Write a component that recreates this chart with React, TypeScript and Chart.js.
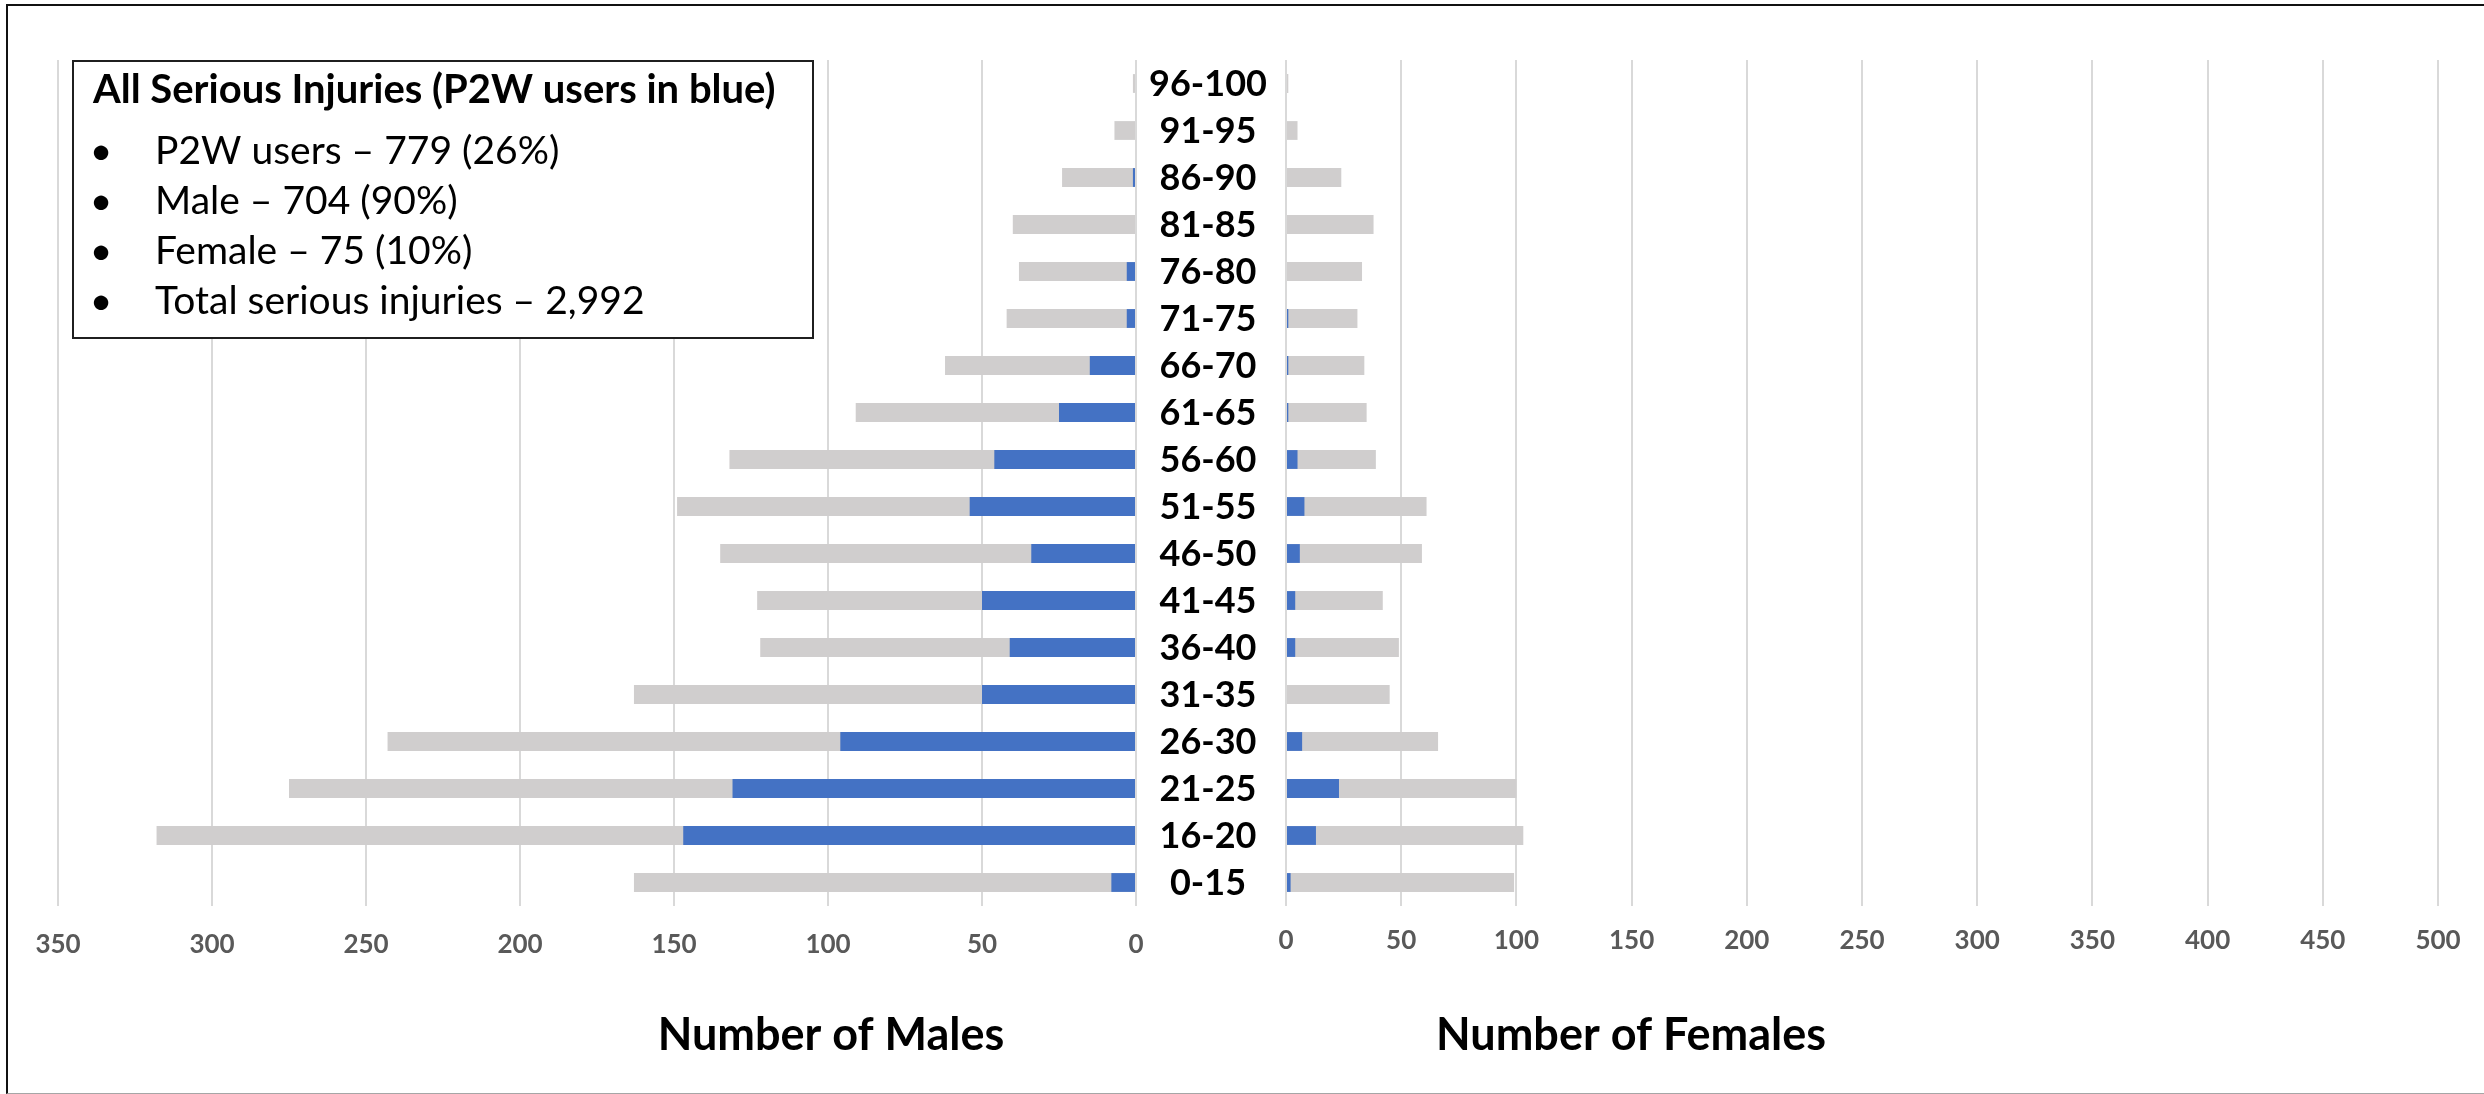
import React, { useEffect, useRef } from "react";
import { Chart, registerables } from "chart.js";

Chart.register(...registerables);

// ---- data (top row first) ----
const categories = ["96-100", "91-95", "86-90", "81-85", "76-80", "71-75", "66-70", "61-65", "56-60", "51-55", "46-50", "41-45", "36-40", "31-35", "26-30", "21-25", "16-20", "0-15"];
const maleAll = [1, 7, 24, 40, 38, 42, 62, 91, 132, 149, 135, 123, 122, 163, 243, 275, 318, 163];
const maleP2W = [0, 0, 1, 0, 3, 3, 15, 25, 46, 54, 34, 50, 41, 50, 96, 131, 147, 8];
const femaleAll = [1, 5, 24, 38, 33, 31, 34, 35, 39, 61, 59, 42, 49, 45, 66, 100, 103, 99];
const femaleP2W = [0, 0, 0, 0, 0, 1, 1, 1, 5, 8, 6, 4, 4, 0, 7, 23, 13, 2];
const maleMax = 350;
const femaleMax = 500;
const tickStep = 50;

const legendTitle = "All Serious Injuries (P2W users in blue)";
const legendLines = ["P2W users – 779 (26%)", "Male – 704 (90%)", "Female – 75 (10%)", "Total serious injuries – 2,992"];
const maleAxisTitle = "Number of Males";
const femaleAxisTitle = "Number of Females";

// ---- style ----
const W = 2484;
const H = 1094;
const BLUE = "#4472c4";
const GREY = "#d0cece";
const GRID = "#d9d9d9";
const TICK = "#595959";
const FONT = "Lato, 'Open Sans', sans-serif";

const legendPlugin = {
  id: "legendBox",
  afterDraw(chart: any) {
    const ctx = chart.ctx;
    ctx.save();
    ctx.fillStyle = "#ffffff";
    ctx.fillRect(73, 61, 740, 277);
    ctx.strokeStyle = "#1f1f1f";
    ctx.lineWidth = 2;
    ctx.strokeRect(73, 61, 740, 277);
    ctx.fillStyle = "#000000";
    ctx.textBaseline = "alphabetic";
    ctx.textAlign = "left";
    ctx.font = `bold 40px ${FONT}`;
    ctx.fillText(legendTitle, 93, 103);
    ctx.font = `39px ${FONT}`;
    legendLines.forEach((t, i) => {
      const y = 164 + i * 50;
      ctx.textAlign = "center";
      ctx.fillText("•", 101, y);
      ctx.textAlign = "left";
      ctx.fillText(t, 155, y);
    });
    ctx.font = `bold 45px ${FONT}`;
    ctx.textAlign = "center";
    ctx.textBaseline = "middle";
    ctx.fillText(maleAxisTitle, 831, 1035);
    ctx.restore();
  },
};

const femalePlugin = {
  id: "femaleExtras",
  afterDraw(chart: any) {
    const ctx = chart.ctx;
    const yScale = chart.scales.y;
    const cx = (yScale.left + yScale.right) / 2;
    ctx.save();
    ctx.fillStyle = "#000000";
    ctx.font = `bold 36px ${FONT}`;
    ctx.textAlign = "center";
    ctx.textBaseline = "middle";
    categories.forEach((c, i) => {
      ctx.fillText(c, cx - 3, yScale.getPixelForTick(i) + 1);
    });
    ctx.font = `bold 45px ${FONT}`;
    ctx.fillText(femaleAxisTitle, 1631, 1035);
    ctx.restore();
  },
};

function xScale(max: number, reverse: boolean, pad: number) {
  return {
    type: "linear",
    min: 0,
    max,
    reverse,
    position: "bottom",
    afterFit: (s: any) => {
      s.height = 188;
    },
    border: { display: false },
    grid: { color: GRID, lineWidth: 2, drawTicks: false },
    ticks: {
      stepSize: tickStep,
      padding: pad,
      color: TICK,
      font: { family: FONT, size: 26, weight: "bold" },
    },
  };
}

export default function App() {
  const leftRef = useRef<HTMLCanvasElement>(null);
  const rightRef = useRef<HTMLCanvasElement>(null);

  useEffect(() => {
    const common = {
      responsive: false,
      animation: false,
      indexAxis: "y",
      plugins: { legend: { display: false }, tooltip: { enabled: false } },
    };

    const left = new Chart(leftRef.current as HTMLCanvasElement, {
      type: "bar",
      data: {
        labels: categories,
        datasets: [
          { label: "P2W males", data: maleP2W, backgroundColor: BLUE, barPercentage: 0.4, categoryPercentage: 1 },
          { label: "All males", data: maleAll, backgroundColor: GREY, barPercentage: 0.4, categoryPercentage: 1 },
        ],
      },
      options: {
        ...common,
        layout: { padding: { left: 58, right: W - 1136, top: 60, bottom: 0 } },
        scales: {
          x: xScale(maleMax, true, 23),
          y: { type: "category", stacked: true, display: false },
        },
      } as any,
      plugins: [legendPlugin],
    } as any);

    const right = new Chart(rightRef.current as HTMLCanvasElement, {
      type: "bar",
      data: {
        labels: categories,
        datasets: [
          { label: "P2W females", data: femaleP2W, backgroundColor: BLUE, barPercentage: 0.4, categoryPercentage: 1 },
          { label: "All females", data: femaleAll, backgroundColor: GREY, barPercentage: 0.4, categoryPercentage: 1 },
        ],
      },
      options: {
        ...common,
        layout: { padding: { left: 1136, right: W - 2438, top: 60, bottom: 0 } },
        scales: {
          x: xScale(femaleMax, false, 19),
          y: {
            type: "category",
            stacked: true,
            position: "left",
            afterFit: (s: any) => {
              s.width = 150;
            },
            border: { display: false },
            grid: { display: false, drawTicks: false },
            ticks: { display: false },
          },
        },
      } as any,
      plugins: [femalePlugin],
    } as any);

    return () => {
      left.destroy();
      right.destroy();
    };
  }, []);

  return (
    <div style={{ position: "fixed", left: 0, top: 0, width: W, height: H, background: "#ffffff", overflow: "hidden" }}>
      <div
        style={{
          position: "absolute",
          left: 6,
          top: 4,
          right: 0,
          bottom: 0,
          boxSizing: "border-box",
          borderTop: "2px solid #111111",
          borderLeft: "2px solid #111111",
          borderBottom: "1px solid #a6a6a6",
        }}
      />
      <canvas ref={leftRef} width={W} height={H} style={{ position: "absolute", left: 0, top: 0, width: W, height: H }} />
      <canvas ref={rightRef} width={W} height={H} style={{ position: "absolute", left: 0, top: 0, width: W, height: H }} />
    </div>
  );
}
